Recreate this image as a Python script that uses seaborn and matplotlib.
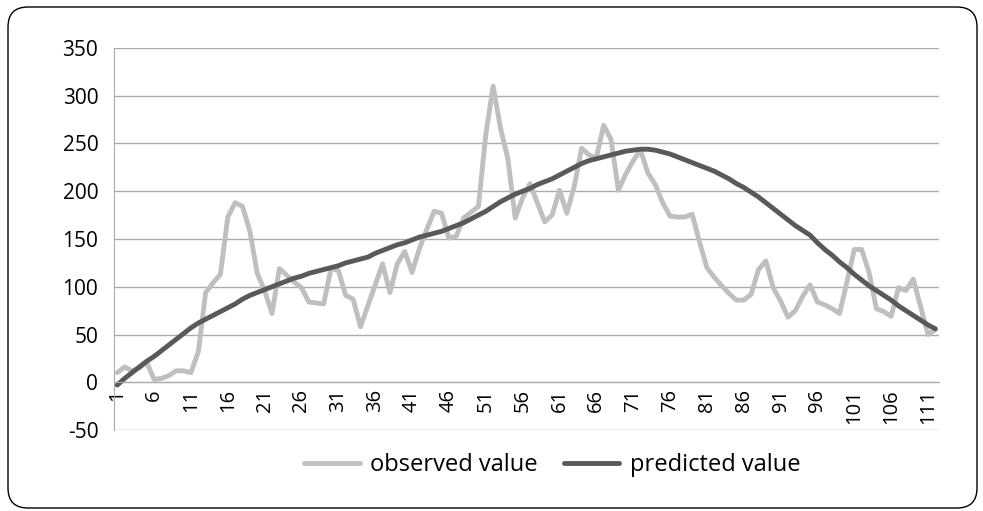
import numpy as np
import pandas as pd
import matplotlib.pyplot as plt
import seaborn as sns
from matplotlib.patches import FancyBboxPatch
from matplotlib.transforms import IdentityTransform

sns.set_style("white")
plt.rcParams['font.family'] = ['Open Sans', 'DejaVu Sans']
plt.rcParams['axes.unicode_minus'] = False

index = list(range(1, 113))
observed = [10, 16, 12, 15, 21, 3, 4, 7, 12, 12,
            10, 32, 94, 104, 113, 173, 188, 184, 158, 114,
            96, 72, 119, 112, 105, 99, 84, 83, 82, 119,
            117, 91, 87, 58, 80, 102, 124, 94, 124, 137,
            115, 140, 160, 179, 177, 151, 153, 172, 178, 184,
            259, 310, 266, 234, 172, 193, 208, 188, 168, 175,
            201, 177, 205, 245, 238, 235, 269, 254, 201, 218,
            232, 243, 219, 207, 188, 174, 173, 173, 176, 147,
            120, 110, 101, 93, 86, 86, 92, 118, 127, 99,
            85, 68, 75, 90, 102, 84, 81, 77, 72, 105,
            139, 139, 115, 77, 74, 69, 99, 96, 108, 79,
            50, 55]
predicted = [-3, 4, 10, 16, 22, 27, 33, 39, 45, 51,
             57, 62, 66, 70, 74, 78, 82, 87, 91, 94,
             97, 100, 103, 106, 109, 111, 114, 116, 118, 120,
             122, 125, 127, 129, 131, 135, 138, 141, 144, 146,
             149, 152, 154, 156, 158, 161, 164, 167, 171, 175,
             179, 184, 189, 193, 197, 200, 203, 207, 210, 213,
             217, 221, 225, 229, 232, 234, 236, 238, 240, 242,
             243, 244, 244, 243, 241, 239, 236, 233, 230, 227,
             224, 221, 217, 213, 208, 204, 199, 194, 188, 182,
             176, 170, 164, 159, 154, 146, 139, 133, 126, 120,
             113, 107, 101, 96, 91, 86, 80, 75, 70, 65,
             60, 56]
tick_labels = [str(i) for i in index[::5]]

df = pd.DataFrame({'index': index,
                   'observed value': observed,
                   'predicted value': predicted})
long_df = df.melt('index', var_name='series', value_name='value')

fig = plt.figure(figsize=(9.83, 5.11), dpi=100)
ax = fig.add_axes([0.1155, 0.1585, 0.8398, 0.7476])

sns.lineplot(data=long_df, x='index', y='value', hue='series',
             palette={'observed value': '#BFBFBF', 'predicted value': '#595959'},
             linewidth=3.5, ax=ax, legend=False)
for line in ax.lines:
    line.set_solid_joinstyle('round')
    line.set_solid_capstyle('round')

grid_col = '#ABABAB'
ax.set_xlim(0.5, 112.5)
ax.set_ylim(-50, 350)
ax.set_yticks(range(-50, 351, 50))
ax.grid(axis='y', color=grid_col, lw=1)
ax.set_axisbelow(True)

for s in ['top', 'right']:
    ax.spines[s].set_visible(False)
ax.spines['left'].set_color(grid_col)
ax.spines['bottom'].set_color(grid_col)
ax.spines['bottom'].set_position(('data', 0))

ax.set_xticks(index[::5])
ax.set_xticklabels(tick_labels, rotation=90)
ax.set_xticks(np.arange(0.5, 113, 1), minor=True)
ax.tick_params(axis='x', which='major', length=0, pad=5, labelsize=14.5,
               labelcolor='black')
ax.tick_params(axis='x', which='minor', length=5, color=grid_col, direction='out')
ax.tick_params(axis='y', length=5, color=grid_col, pad=6, labelsize=15,
               labelcolor='black')
ax.set_xlabel('')
ax.set_ylabel('')

handles = ax.lines[:2]
leg = fig.legend(handles, ['observed value', 'predicted value'], loc='center',
                 bbox_to_anchor=(0.562, 0.09), ncol=2, frameon=False, fontsize=17,
                 handlelength=2.35, columnspacing=1.1, handletextpad=0.45)
for t in leg.get_texts():
    t.set_color('black')

# rounded outer frame
frame = FancyBboxPatch((8, 3), 969, 501, boxstyle="round,pad=0,rounding_size=20",
                       transform=IdentityTransform(), fill=False, ec='black', lw=1)
fig.patches.append(frame)

fig.savefig('out.png', dpi=100)
